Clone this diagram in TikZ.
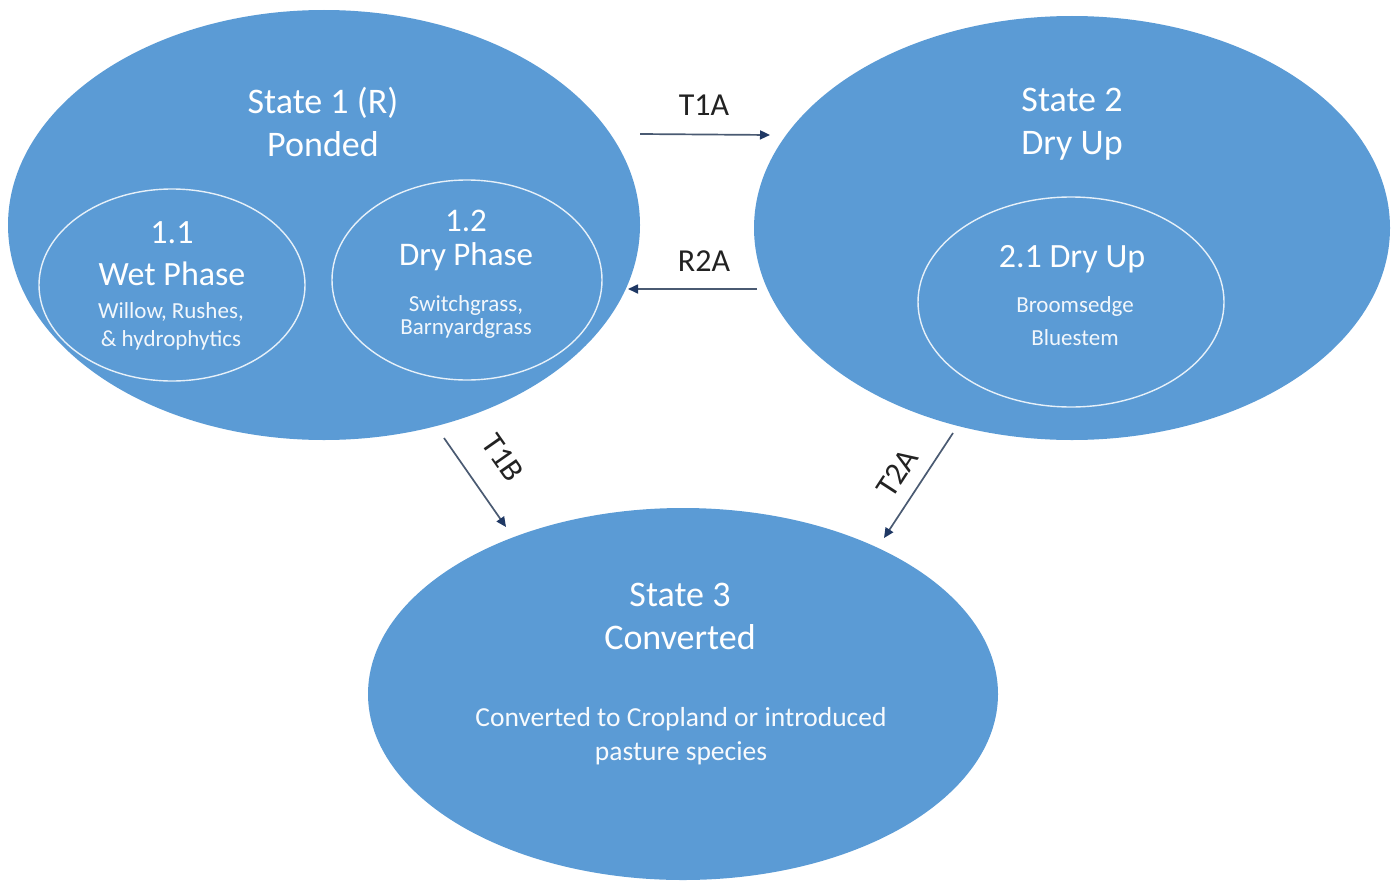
\documentclass[tikz,border=0pt]{standalone}
\usepackage{fontspec}
\setmainfont{Carlito}
\usetikzlibrary{shapes.geometric,arrows.meta}
\definecolor{stfill}{HTML}{5B9BD5}
\definecolor{arrline}{HTML}{4A5A72}
\definecolor{arrhead}{HTML}{1F3864}
\definecolor{lbl}{HTML}{222222}
\tikzset{
  statebox/.style={ellipse, fill=stfill, draw=none, inner sep=0pt},
  phasebox/.style={ellipse, draw=white!85!stfill, line width=1.4pt, inner sep=0pt},
  title/.style={text=white, align=center, font=\fontsize{36}{43}\selectfont},
  ptitle/.style={text=white, align=center, font=\fontsize{34}{40}\selectfont},
  small/.style={text=white!92!stfill, align=center, font=\fontsize{23}{28}\selectfont},
  desc/.style={text=white!95!stfill, align=center, font=\fontsize{27.5}{34}\selectfont},
  trans/.style={draw=arrline, line width=1.7pt, -{Triangle[length=10pt,width=9pt,color=arrhead]}},
  tlabel/.style={text=lbl, font=\fontsize{32}{38}\selectfont, inner sep=0pt}
}
\begin{document}
\begin{tikzpicture}[x=1pt,y=-1pt]
\useasboundingbox (0,0) rectangle (1396,883);
% states
\node[statebox, minimum width=632pt, minimum height=430pt] (s1) at (324,225) {};
\node[statebox, minimum width=636pt, minimum height=424pt] (s2) at (1072,228) {};
\node[statebox, minimum width=630pt, minimum height=372pt] (s3) at (683,694) {};
% phases
\node[phasebox, minimum width=266pt, minimum height=192pt] (p11) at (172,285) {};
\node[phasebox, minimum width=270pt, minimum height=200pt] (p12) at (467,280) {};
\node[phasebox, minimum width=306pt, minimum height=210pt] (p21) at (1071,302) {};
% texts
\node[title] (s1t) at (323,122) {State 1 (R)\\Ponded};
\node[title] (s2t) at (1072,124) {State 2\\Dry Up};
\node[title] (s3t) at (680,616) {State 3\\Converted};
\node[ptitle, font=\fontsize{34}{42}\selectfont] (p11t) at (172,254) {1.1\\Wet Phase};
\node[small] (p11d) at (171,326) {Willow, Rushes,\\\& hydrophytics};
\node[ptitle, font=\fontsize{33}{34}\selectfont] (p12t) at (466,240) {1.2\\Dry Phase};
\node[small, font=\fontsize{23}{23}\selectfont] (p12d) at (466,317) {Switchgrass,\\Barnyardgrass};
\node[ptitle] (p21t) at (1072,259) {2.1 Dry Up};
\node[small, font=\fontsize{23}{33}\selectfont] (p21d) at (1075,321) {Broomsedge\\Bluestem};
\node[desc] (s3d) at (681,736) {Converted to Cropland or introduced\\pasture species};
% transitions
\coordinate (a1s) at (640,134);
\coordinate (a1e) at (770,135);
\coordinate (a2s) at (757,289);
\coordinate (a2e) at (628,289);
\coordinate (a3s) at (444,438);
\coordinate (a3e) at (506,527);
\coordinate (a4s) at (953,433);
\coordinate (a4e) at (884,538);
\draw[trans] (a1s) -- (a1e);
\draw[trans] (a2s) -- (a2e);
\draw[trans] (a3s) -- (a3e);
\draw[trans] (a4s) -- (a4e);
\node[tlabel] (l1) at (704,105) {T1A};
\node[tlabel] (l2) at (704,261) {R2A};
\node[tlabel, rotate=-55] (l3) at (503,458) {T1B};
\node[tlabel, rotate=57] (l4) at (897,473) {T2A};
\end{tikzpicture}
\end{document}
